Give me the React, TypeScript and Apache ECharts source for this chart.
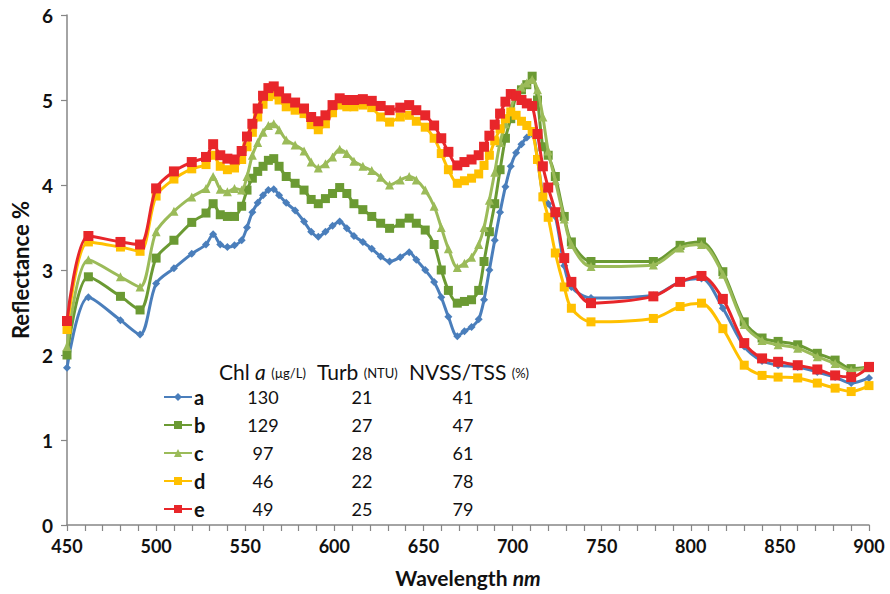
import React, { useEffect, useRef } from "react";
import * as echarts from "echarts";

const wavelengths = [
  450, 462, 480, 491, 500, 510, 520, 528, 532, 536,
  540, 544, 548, 551, 554, 557, 560, 563, 566, 569,
  573, 578, 583, 587, 591, 595, 599, 603, 607, 611,
  616, 621, 626, 631, 637, 642, 646, 651, 656, 660,
  664, 669, 673, 677, 681, 684, 687, 690, 693, 696,
  699, 702, 705, 708, 711, 714, 717, 720, 724, 729,
  733, 744, 779, 794, 806, 818, 830, 840, 849, 860,
  871, 881, 890, 900,
];

const seriesA = [
  1.85, 2.68, 2.41, 2.24, 2.84, 3.02, 3.19, 3.30, 3.42, 3.30,
  3.27, 3.29, 3.35, 3.50, 3.68, 3.79, 3.88, 3.94, 3.95, 3.88,
  3.79, 3.70, 3.57, 3.45, 3.39, 3.45, 3.52, 3.57, 3.49, 3.40,
  3.33, 3.25, 3.16, 3.10, 3.15, 3.21, 3.12, 3.00, 2.86, 2.68,
  2.45, 2.22, 2.28, 2.33, 2.42, 2.65, 3.00, 3.35, 3.68, 3.98,
  4.22, 4.38, 4.48, 4.56, 4.60, 4.30, 3.90, 3.78, 3.63, 3.05,
  2.80, 2.67, 2.70, 2.86, 2.90, 2.55, 2.10, 1.93, 1.88, 1.86,
  1.80, 1.74, 1.67, 1.73,
];

const seriesB = [
  2.00, 2.92, 2.69, 2.53, 3.14, 3.35, 3.56, 3.67, 3.78, 3.65,
  3.63, 3.63, 3.75, 3.94, 4.08, 4.16, 4.22, 4.29, 4.31, 4.22,
  4.10, 4.02, 3.94, 3.83, 3.78, 3.84, 3.90, 3.97, 3.90, 3.78,
  3.71, 3.63, 3.55, 3.49, 3.55, 3.61, 3.55, 3.47, 3.30, 3.00,
  2.76, 2.61, 2.63, 2.65, 2.76, 3.10, 3.45, 3.78, 4.18, 4.55,
  4.78, 5.05, 5.12, 5.18, 5.28, 5.00, 4.45, 4.35, 4.10, 3.63,
  3.33, 3.10, 3.10, 3.29, 3.33, 2.98, 2.39, 2.20, 2.16, 2.12,
  2.02, 1.94, 1.84, 1.86,
];

const seriesC = [
  2.10, 3.12, 2.92, 2.80, 3.45, 3.69, 3.86, 3.96, 4.10, 3.95,
  3.92, 3.96, 3.94, 4.10, 4.35, 4.50, 4.62, 4.70, 4.72, 4.65,
  4.53, 4.47, 4.40, 4.27, 4.20, 4.25, 4.33, 4.42, 4.37, 4.28,
  4.22, 4.17, 4.09, 4.00, 4.06, 4.10, 4.06, 3.94, 3.75, 3.50,
  3.25, 3.03, 3.08, 3.15, 3.30, 3.50, 3.82, 4.15, 4.50, 4.72,
  4.90, 5.08, 5.15, 5.20, 5.24, 5.12, 4.80, 4.40, 4.05, 3.60,
  3.30, 3.04, 3.06, 3.26, 3.30, 2.95, 2.36, 2.17, 2.12, 2.08,
  1.98, 1.90, 1.82, 1.85,
];

const seriesD = [
  2.30, 3.33, 3.27, 3.22, 3.87, 4.07, 4.19, 4.24, 4.35, 4.22,
  4.18, 4.20, 4.30, 4.45, 4.62, 4.80, 4.95, 5.04, 5.06, 5.00,
  4.92, 4.88, 4.84, 4.71, 4.65, 4.72, 4.85, 4.94, 4.92, 4.92,
  4.94, 4.91, 4.80, 4.74, 4.80, 4.82, 4.75, 4.68, 4.55, 4.37,
  4.18, 4.02, 4.05, 4.08, 4.13, 4.23, 4.35, 4.52, 4.66, 4.78,
  4.86, 4.82, 4.75, 4.70, 4.63, 4.30, 3.86, 3.62, 3.20, 2.80,
  2.55, 2.39, 2.43, 2.57, 2.61, 2.31, 1.88, 1.76, 1.74, 1.73,
  1.67, 1.61, 1.57, 1.64,
];

const seriesE = [
  2.40, 3.40, 3.33, 3.30, 3.96, 4.16, 4.27, 4.33, 4.48, 4.35,
  4.31, 4.30, 4.40, 4.57, 4.72, 4.90, 5.05, 5.14, 5.16, 5.10,
  5.02, 4.97, 4.90, 4.80, 4.75, 4.82, 4.94, 5.02, 5.00, 5.00,
  5.01, 4.99, 4.93, 4.88, 4.91, 4.94, 4.88, 4.82, 4.70, 4.55,
  4.39, 4.23, 4.27, 4.30, 4.35, 4.45, 4.58, 4.71, 4.84, 4.98,
  5.07, 5.05, 5.00, 4.96, 4.93, 4.60, 4.22, 3.97, 3.68, 3.14,
  2.86, 2.61, 2.69, 2.86, 2.93, 2.66, 2.14, 1.96, 1.92, 1.88,
  1.83, 1.76, 1.74, 1.86,
];

const sampleNames = ["a", "b", "c", "d", "e"];
const chlValues = [130, 129, 97, 46, 49];
const turbValues = [21, 27, 28, 22, 25];
const nvssValues = [41, 47, 61, 78, 79];

const FONT = "Lato, 'DejaVu Sans', sans-serif";

export default function App() {
  const ref = useRef<HTMLDivElement>(null);

  useEffect(() => {
    if (!ref.current) return;
    const chart = echarts.init(ref.current, undefined, { renderer: "svg" });

    const allValues = [seriesA, seriesB, seriesC, seriesD, seriesE];
    const colors = ["#4a7ebb", "#6b9a33", "#9bbb59", "#ffc000", "#e8262a"];
    const symbols = ["diamond", "rect", "triangle", "rect", "rect"];
    const sizes = [8, 9, 9, 9, 10];

    const series = allValues.map((vals, i) => ({
      name: sampleNames[i],
      type: "line",
      smooth: 0.3,
      data: wavelengths.map((w, j) => [w, vals[j]]),
      symbol: symbols[i],
      symbolSize: sizes[i],
      showSymbol: true,
      lineStyle: { color: colors[i], width: 3 },
      itemStyle: { color: colors[i], borderWidth: 0 },
      z: 2 + i,
    }));

    const rowTop = 397;
    const rowStep = 28;
    const numFont = { fontSize: 18, fontFamily: FONT, fill: "#111" };

    const tableTexts: any[] = [];
    sampleNames.forEach((_, i) => {
      const y = rowTop + i * rowStep;
      tableTexts.push({
        type: "text", x: 263, y,
        style: { ...numFont, text: String(chlValues[i]), align: "center", verticalAlign: "middle" },
      });
      tableTexts.push({
        type: "text", x: 362, y,
        style: { ...numFont, text: String(turbValues[i]), align: "center", verticalAlign: "middle" },
      });
      tableTexts.push({
        type: "text", x: 463, y,
        style: { ...numFont, text: String(nvssValues[i]), align: "center", verticalAlign: "middle" },
      });
    });

    const headerRich = {
      m: { fontSize: 21, fontFamily: FONT, fill: "#111", lineHeight: 24, verticalAlign: "bottom" },
      i: { fontSize: 21, fontStyle: "italic", fontFamily: FONT, fill: "#111", lineHeight: 24, verticalAlign: "bottom" },
      s: { fontSize: 13, fontFamily: FONT, fill: "#111", lineHeight: 13, verticalAlign: "bottom", padding: [0, 0, 3, 0] },
    };
    const headerY = 370;
    const headers = [
      { x: 219, text: "{m|Chl }{i|a}{m| }{s|(µg/L)}" },
      { x: 317, text: "{m|Turb }{s|(NTU)}" },
      { x: 409, text: "{m|NVSS/TSS }{s|(%)}" },
    ].map((h) => ({
      type: "text",
      x: h.x,
      y: headerY,
      style: {
        text: h.text,
        fontSize: 21,
        fontFamily: FONT,
        fill: "#111",
        align: "left",
        verticalAlign: "middle",
        rich: headerRich,
      },
    }));

    const option: any = {
      animation: false,
      backgroundColor: "#ffffff",
      grid: { left: 67, top: 15, width: 802, height: 510, containLabel: false },
      xAxis: {
        type: "value",
        min: 450,
        max: 900,
        interval: 50,
        name: "Wavelength {i|nm}",
        nameLocation: "middle",
        nameGap: 42,
        nameTextStyle: {
          fontSize: 21,
          fontWeight: "bold",
          fontFamily: FONT,
          color: "#111",
          rich: {
            i: { fontSize: 21, fontWeight: "bold", fontStyle: "italic", fontFamily: FONT, color: "#111" },
          },
        },
        axisLine: { show: true, lineStyle: { color: "#868686", width: 1.5 } },
        axisTick: { show: true, length: 6, inside: false, lineStyle: { color: "#868686", width: 1.2 } },
        minorTick: { show: true, splitNumber: 5, length: 6, lineStyle: { color: "#868686", width: 1.2 } },
        axisLabel: { fontSize: 18, fontWeight: "bold", fontFamily: FONT, color: "#111", margin: 12 },
        splitLine: { show: false },
      },
      yAxis: {
        type: "value",
        min: 0,
        max: 6,
        interval: 1,
        name: "Reflectance %",
        nameLocation: "middle",
        nameGap: 35,
        nameTextStyle: { fontSize: 22, fontWeight: "bold", fontFamily: FONT, color: "#111" },
        axisLine: { show: true, lineStyle: { color: "#868686", width: 1.5 } },
        axisTick: { show: true, length: 6, lineStyle: { color: "#868686", width: 1.2 } },
        axisLabel: { fontSize: 19, fontWeight: "bold", fontFamily: FONT, color: "#111", margin: 14 },
        splitLine: { show: false },
      },
      legend: {
        orient: "vertical",
        left: 163,
        top: rowTop - 10,
        itemWidth: 28,
        itemHeight: 10,
        itemGap: 8,
        padding: 0,
        data: sampleNames,
        textStyle: { fontSize: 20, fontWeight: "bold", fontFamily: FONT, color: "#111", lineHeight: 20, padding: [0, 0, 0, -3] },
      },
      graphic: [...headers, ...tableTexts],
      series,
    };

    chart.setOption(option);
    return () => chart.dispose();
  }, []);

  return (
    <div
      ref={ref}
      style={{ position: "fixed", left: 0, top: 0, width: 890, height: 594, background: "#fff" }}
    />
  );
}
